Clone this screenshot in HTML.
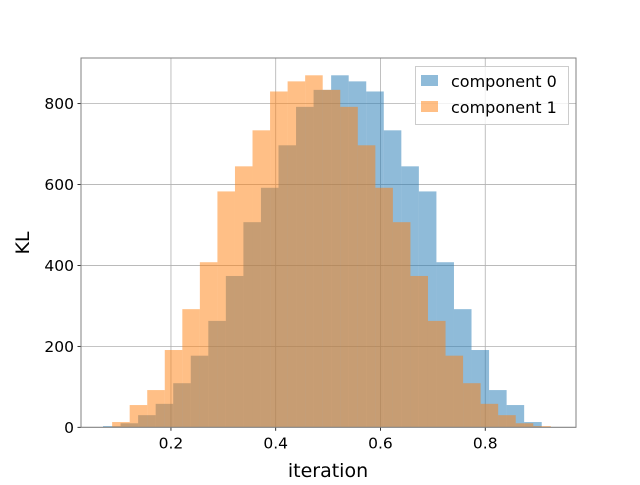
<!DOCTYPE html>
<html><head><meta charset="utf-8"><style>
body{margin:0;background:#fff}
svg text{font-family:"DejaVu Sans","Liberation Sans",sans-serif;fill:#000}
</style></head><body>
<svg id="chart" width="640" height="480" viewBox="0 0 640 480" xmlns="http://www.w3.org/2000/svg">
<g id="grid"></g>
<g id="bars"></g>
<g id="axes"></g>
<text x="29" y="243" font-size="19" text-anchor="middle" transform="rotate(-90 29 243)">KL</text>
<text x="328" y="477" font-size="19" text-anchor="middle">iteration</text>
<g>
<rect x="415.5" y="66.5" width="153" height="58" fill="#fff" fill-opacity="0.8" stroke="#ccc" stroke-width="1"/>
<rect x="421" y="75" width="17" height="11" fill="#1f77b4" fill-opacity="0.5"/>
<text x="451" y="87" font-size="16">component 0</text>
<rect x="421" y="101" width="17" height="11" fill="#ff7f0e" fill-opacity="0.5"/>
<text x="451" y="113" font-size="16">component 1</text>
</g>
</svg>
<script>
const comp0Values = [3,10,30,58,109,177,263,374,507,592,697,792,834,870,855,830,734,645,583,408,292,191,92,55,13];
const comp1Values = [13,55,92,191,292,408,583,645,734,830,855,870,834,792,697,592,507,374,263,177,109,58,30,10,3];
const comp0Start = 0.0703;
const comp1Start = 0.0877;
const binWidth = 0.0335;
const xTicks = [0.2,0.4,0.6,0.8];
const xTickLabels = ["0.2","0.4","0.6","0.8"];
const yTicks = [0,200,400,600,800];
const yTickLabels = ["0","200","400","600","800"];

const L=81,R=576,T=58,B=427.3;
const x=v=>66.2+v*523.8;
const y=v=>B-v*0.4046;
const NS="http://www.w3.org/2000/svg";
function mk(tag,attrs,parent){const e=document.createElementNS(NS,tag);for(const k in attrs)e.setAttribute(k,attrs[k]);parent.appendChild(e);return e;}
const grid=document.getElementById('grid'),bars=document.getElementById('bars'),axes=document.getElementById('axes');
xTicks.forEach((t,i)=>{
  const g=mk('line',{x1:x(t),x2:x(t),y1:T,y2:B,stroke:'#b0b0b0','stroke-width':0.8},grid);
  
  
  const tk=mk('line',{x1:x(t),x2:x(t),y1:B,y2:B+3.5,stroke:'#000','stroke-width':0.8},axes);
  
  
  const tx=mk('text',{x:x(t),y:B+21,'font-size':15.5,'text-anchor':'middle'},axes);
  tx.textContent=xTickLabels[i];
  
  
});
yTicks.forEach((t,i)=>{
  const g=mk('line',{x1:L,x2:R,y1:y(t),y2:y(t),stroke:'#b0b0b0','stroke-width':0.8},grid);
  
  
  const tk=mk('line',{x1:L-3.5,x2:L,y1:y(t),y2:y(t),stroke:'#000','stroke-width':0.8},axes);
  
  
  const tx=mk('text',{x:L-7,y:y(t)+5.5,'font-size':15.5,'text-anchor':'end'},axes);
  tx.textContent=yTickLabels[i];
  
  
});
function drawSeries(vals,start,color,name){
  vals.forEach((v,i)=>{
    const x0=x(start+i*binWidth),x1=x(start+(i+1)*binWidth);
    const r=mk('rect',{x:x0,y:y(v),width:x1-x0,height:B-y(v),fill:color,'fill-opacity':0.5},bars);
    
    
  });
}
drawSeries(comp0Values,comp0Start,'#1f77b4','component-0');
drawSeries(comp1Values,comp1Start,'#ff7f0e','component-1');
const fr=mk('rect',{x:L,y:T,width:R-L,height:B-T,fill:'none',stroke:'#808080','stroke-width':1},axes);


</script>
</body></html>
